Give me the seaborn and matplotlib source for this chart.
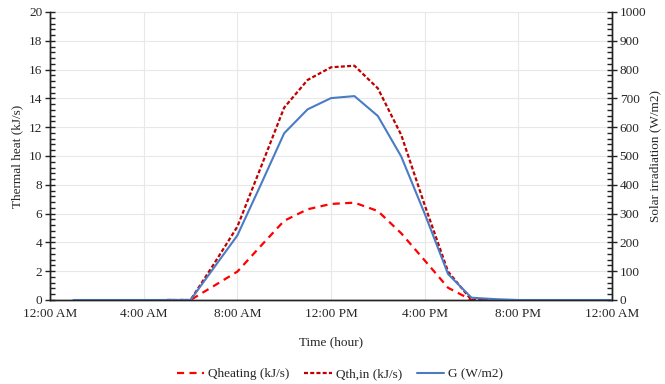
import matplotlib
matplotlib.use("Agg")
import matplotlib.pyplot as plt
import seaborn as sns
from matplotlib.ticker import MultipleLocator, FixedLocator
from matplotlib.lines import Line2D

# ---- data ----
hours_g = list(range(1, 25))
g_vals = [0, 0, 0, 0, 0, 0, 112, 224, 400, 579, 662, 701, 708, 639, 498, 300,
          90, 8, 3, 0, 0, 0, 0, 0]

hours_q = list(range(5, 20))
q_heating = [0, 0, 0.98, 1.97, 3.75, 5.5, 6.3, 6.67, 6.76, 6.18, 4.63, 2.75,
             0.85, 0, 0]
q_thin = [0, 0, 2.5, 5.09, 9.2, 13.36, 15.28, 16.16, 16.27, 14.7, 11.46, 6.6,
          1.97, 0, 0]

x_tick_pos = [0, 4, 8, 12, 16, 20, 24]
x_tick_labels = ["12:00 AM", "4:00 AM", "8:00 AM", "12:00 PM", "4:00 PM",
                 "8:00 PM", "12:00 AM"]
series_labels = ["Qheating (kJ/s)", "Qth,in (kJ/s)", "G (W/m2)"]

# ---- style ----
sns.set_style("white")
plt.rcParams['font.family'] = ['Liberation Serif', 'DejaVu Serif']
FS = 9.5

c_heat = "#FF0000"
c_thin = "#C00000"
c_g = "#4A7CC4"
ls_heat = (0, (3.2, 2.4))
ls_thin = (0, (1.8, 1.0))

fig = plt.figure(figsize=(6.65, 3.84), dpi=100)
ax = fig.add_axes([50 / 665, 1 - 300 / 384, 562 / 665, 288 / 384])

sns.lineplot(x=hours_q, y=q_heating, ax=ax, color=c_heat, linestyle=ls_heat,
             linewidth=1.6, legend=False)
sns.lineplot(x=hours_q, y=q_thin, ax=ax, color=c_thin, linestyle=ls_thin,
             linewidth=1.6, legend=False)

ax2 = ax.twinx()
sns.lineplot(x=hours_g, y=g_vals, ax=ax2, color=c_g, linewidth=1.5,
             legend=False)

ax.set_xlim(0, 24)
ax.set_ylim(0, 20)
ax2.set_ylim(0, 1000)

ax.xaxis.set_major_locator(FixedLocator(x_tick_pos))
ax.set_xticklabels(x_tick_labels)
ax.xaxis.set_minor_locator(MultipleLocator(1))
ax.yaxis.set_major_locator(MultipleLocator(2))
ax.yaxis.set_minor_locator(MultipleLocator(0.4))
ax2.yaxis.set_major_locator(MultipleLocator(100))
ax2.yaxis.set_minor_locator(MultipleLocator(20))

ax.grid(True, which='major', color='#e8e8e8', linewidth=0.8)
ax.set_axisbelow(True)

for a in (ax, ax2):
    a.spines['top'].set_visible(False)
    for s in ('left', 'right', 'bottom'):
        a.spines[s].set_color('#222222')
        a.spines[s].set_linewidth(1.0)

ax.tick_params(axis='both', which='major', direction='inout', length=7,
               width=1, color='#222222', labelsize=FS, pad=2)
ax.tick_params(axis='both', which='minor', direction='in', length=3.5,
               width=1, color='#222222')
ax2.tick_params(axis='y', which='major', direction='inout', length=7,
                width=1, color='#222222', labelsize=FS, pad=2)
ax2.tick_params(axis='y', which='minor', direction='in', length=3.5,
                width=1, color='#222222')

ax.set_xlabel("Time (hour)", fontsize=FS, labelpad=12)
ax.set_ylabel("Thermal heat (kJ/s)", fontsize=FS, labelpad=4)
ax2.set_ylabel("Solar irradiation (W/m2)", fontsize=FS, labelpad=2)

handles = [
    Line2D([], [], color=c_heat, linestyle=ls_heat, linewidth=1.6),
    Line2D([], [], color=c_thin, linestyle=ls_thin, linewidth=1.6),
    Line2D([], [], color=c_g, linewidth=1.5),
]
fig.legend(handles, series_labels, loc='center',
           bbox_to_anchor=(340 / 665, 1 - 374 / 384), ncol=3, frameon=False,
           fontsize=FS, handlelength=2.1, handletextpad=0.3,
           columnspacing=1.1)

fig.savefig("out.png", dpi=100)
